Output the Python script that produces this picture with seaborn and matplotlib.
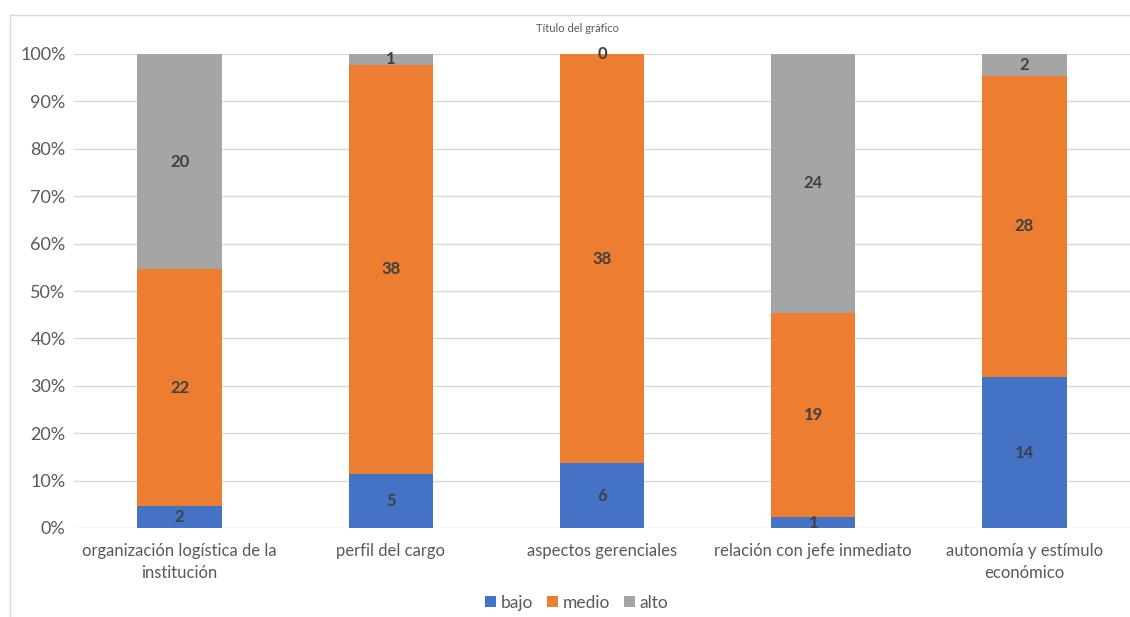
import matplotlib
matplotlib.use("Agg")
import matplotlib.pyplot as plt
import seaborn as sns
import pandas as pd
import numpy as np
from matplotlib.patches import Rectangle, Patch

categories = ["organización logística de la\ninstitución", "perfil del cargo",
              "aspectos gerenciales", "relación con jefe inmediato",
              "autonomía y estímulo\neconómico"]
bajo = [2, 5, 6, 1, 14]
medio = [22, 38, 38, 19, 28]
alto = [20, 1, 0, 24, 2]
series_names = ["bajo", "medio", "alto"]
colors = ["#4472C4", "#ED7D31", "#A5A5A5"]
yticks = [0, 0.1, 0.2, 0.3, 0.4, 0.5, 0.6, 0.7, 0.8, 0.9, 1.0]

sns.set_theme(style="white")
plt.rcParams['font.family'] = ['Lato', 'DejaVu Sans']

b = np.array(bajo, float); m = np.array(medio, float); a = np.array(alto, float)
tot = b + m + a
pb, pm, pa = b / tot, m / tot, a / tot

df = pd.DataFrame({"cat": categories, "c3": pb + pm + pa, "c2": pb + pm, "c1": pb})

fig = plt.figure(figsize=(11.3, 6.17), dpi=100)
ax = fig.add_axes([74 / 1130, 1 - 528 / 617, 1 - 74 / 1130, (528 - 54) / 617])

for col, color in zip(["c3", "c2", "c1"], colors[::-1]):
    sns.barplot(data=df, x="cat", y=col, color=color, width=0.4, ax=ax,
                saturation=1, linewidth=0, errorbar=None)

ax.set_ylim(0, 1)
ax.set_xlim(-0.5, 4.5)
ax.set_yticks(yticks)
ax.set_yticklabels([f"{int(round(t * 100))}%" for t in yticks])
ax.yaxis.grid(True, color="#D9D9D9", linewidth=1)
ax.set_axisbelow(True)
for s in ax.spines.values():
    s.set_visible(False)
ax.set_xlabel("")
ax.set_ylabel("")
ax.tick_params(axis="x", length=0, labelsize=12, colors="#595959", pad=11)
ax.tick_params(axis="y", length=0, labelsize=13, colors="#595959", pad=6)
for t in ax.get_xticklabels():
    t.set_linespacing(1.45)

lab_kw = dict(ha="center", va="center", fontsize=12, fontweight="bold", color="#404040")
for i in range(len(categories)):
    ax.text(i, pb[i] / 2, str(bajo[i]), **lab_kw)
    ax.text(i, pb[i] + pm[i] / 2, str(medio[i]), **lab_kw)
    ax.text(i, pb[i] + pm[i] + pa[i] / 2, str(alto[i]), **lab_kw)

handles = [Patch(facecolor=c, edgecolor="none") for c in colors]
fig.legend(handles, series_names, loc="center", bbox_to_anchor=(577 / 1130, 1 - 603 / 617),
           ncol=3, frameon=False, fontsize=12.5, handlelength=0.6, handleheight=0.6,
           handletextpad=0.3, columnspacing=0.8, labelcolor="#595959")

fig.text(577 / 1130, 1 - 29 / 617, "Título del gráfico", ha="center", va="center",
         fontsize=8, color="#595959")

fig.patches.append(Rectangle((10 / 1130, -0.01), 1.05, 1 - 15 / 617 + 0.01,
                             transform=fig.transFigure, fill=False,
                             edgecolor="#D9D9D9", linewidth=1))

fig.savefig("out.png", dpi=100)
